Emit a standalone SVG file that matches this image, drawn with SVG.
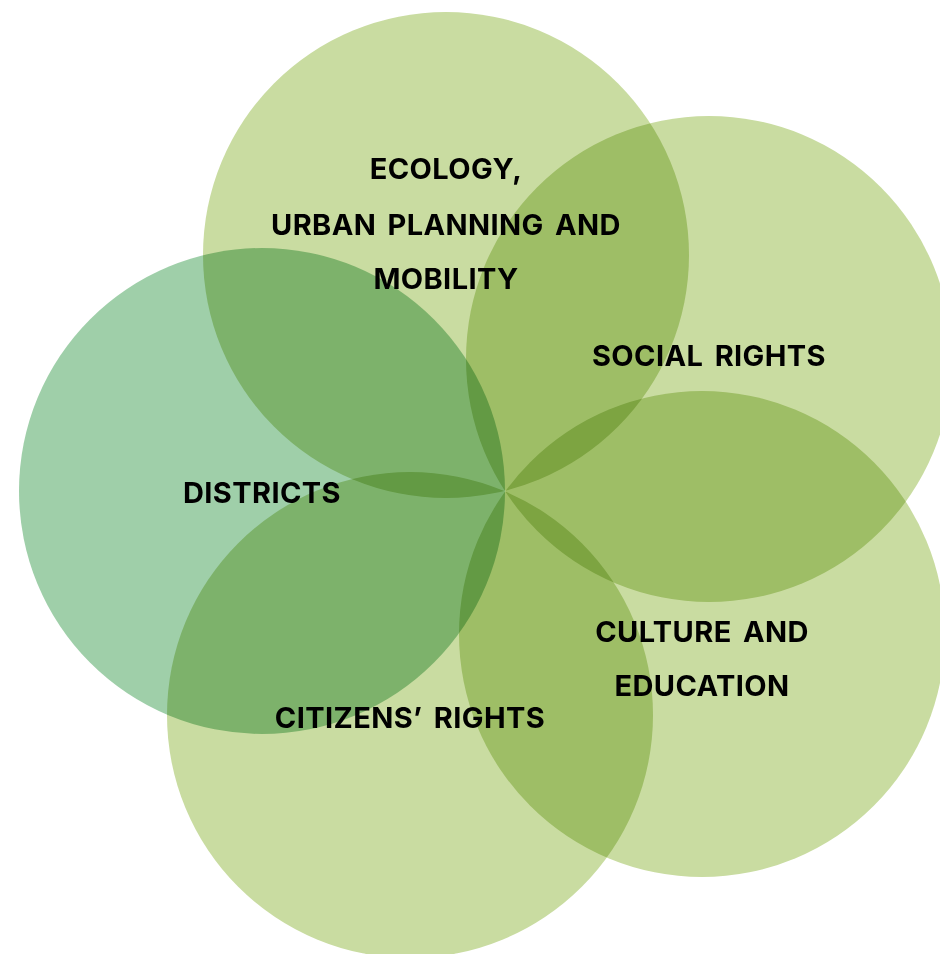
<svg xmlns="http://www.w3.org/2000/svg" width="940" height="954" viewBox="0 0 940 954">
  <style>
    .c { fill: #c9dca1; mix-blend-mode: multiply; }
    .d { fill: #9fcfa9; mix-blend-mode: multiply; }
    .t { font-family: Inter, "Liberation Sans", sans-serif; font-weight: 700; font-size: 29px; letter-spacing: 0.4px; word-spacing: 4px; fill: #000; text-anchor: middle; }
  </style>
  <rect width="940" height="954" fill="#ffffff"/>
  <g id="circles" style="isolation:isolate">
    <g id="ecology"><circle class="c" cx="446" cy="255" r="243"/></g>
    <g id="social-rights"><circle class="c" cx="709" cy="359" r="243"/></g>
    <g id="culture-education"><circle class="c" cx="702" cy="634" r="243"/></g>
    <g id="citizens-rights"><circle class="c" cx="410" cy="715" r="243"/></g>
    <g id="districts"><circle class="d" cx="262" cy="491" r="243"/></g>
  </g>
  <g id="labels">
    <text class="t" x="446" y="179">ECOLOGY,</text>
    <text class="t" x="446" y="235">URBAN PLANNING AND</text>
    <text class="t" x="446" y="289">MOBILITY</text>
    <text class="t" x="709" y="366">SOCIAL RIGHTS</text>
    <text class="t" x="702" y="642">CULTURE AND</text>
    <text class="t" x="702" y="696">EDUCATION</text>
    <text class="t" x="410" y="728">CITIZENS’ RIGHTS</text>
    <text class="t" x="262" y="503">DISTRICTS</text>
  </g>
</svg>
